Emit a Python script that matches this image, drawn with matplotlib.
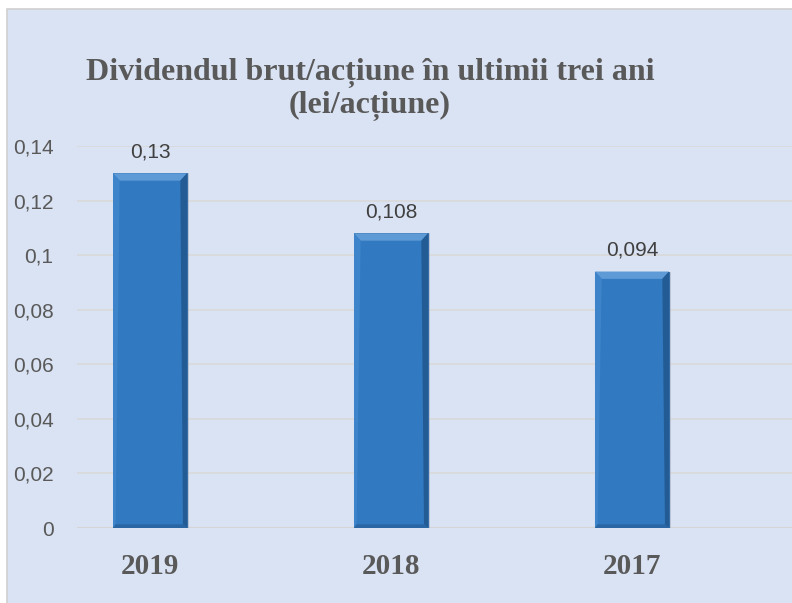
import matplotlib.pyplot as plt
from matplotlib.patches import Rectangle, Polygon

years = ["2019", "2018", "2017"]
dividend = [0.13, 0.108, 0.094]
value_labels = ["0,13", "0,108", "0,094"]
yticks = [0, 0.02, 0.04, 0.06, 0.08, 0.1, 0.12, 0.14]
ytick_labels = ["0", "0,02", "0,04", "0,06", "0,08", "0,1", "0,12", "0,14"]

W, H = 792, 603
fig = plt.figure(figsize=(W / 100, H / 100), dpi=100, facecolor="white")

## light blue chart panel with grey border on the left / top
panel = Rectangle((7 / W, -0.01), 1.0, (H - 9) / H + 0.01, transform=fig.transFigure,
                  facecolor="#dae3f3", edgecolor="#d0d0d0", linewidth=1.2, zorder=-10)
fig.patches.append(panel)

ax = fig.add_axes([77 / W, 75 / H, 715 / W, 382 / H])
ax.set_zorder(1)
ax.set_facecolor("none")
for s in ax.spines.values():
    s.set_visible(False)

x = list(range(len(years)))
bw = 0.307
bars = ax.bar(x, dividend, width=bw, color="#3179c0", edgecolor="#2a64a0",
              linewidth=0.6, zorder=3)

## bevel look: lighter top edge, darker right/bottom edges
for b in bars:
    x0, w, h = b.get_x(), b.get_width(), b.get_height()
    dx, dy = w * 0.09, 0.0027
    ax.add_patch(Polygon([(x0, h), (x0 + w, h), (x0 + w - dx, h - dy), (x0 + dx, h - dy)],
                         closed=True, facecolor="#5e9ad6", edgecolor="none", zorder=4))
    ax.add_patch(Polygon([(x0 + w, h), (x0 + w, 0), (x0 + w - dx * 0.6, dy * 0.5),
                          (x0 + w - dx, h - dy)],
                         closed=True, facecolor="#235b94", edgecolor="none", zorder=4))
    ax.add_patch(Polygon([(x0, h), (x0, 0), (x0 + dx * 0.4, dy * 0.5), (x0 + dx, h - dy)],
                         closed=True, facecolor="#3d84ca", edgecolor="none", zorder=4))
    ax.add_patch(Polygon([(x0, 0), (x0 + w, 0), (x0 + w - dx * 0.6, dy * 0.5), (x0 + dx * 0.4, dy * 0.5)],
                         closed=True, facecolor="#2a66a3", edgecolor="none", zorder=4))
    ax.add_patch(Rectangle((x0 + w, 0), w * 0.03, h, facecolor="#9aa8bd", alpha=0.5,
                           edgecolor="none", zorder=2))

for xi, v, lab in zip(x, dividend, value_labels):
    ax.annotate(lab, (xi, v), xytext=(0, 11.5), textcoords="offset points",
                ha="center", va="baseline", fontsize=15, family="Liberation Sans",
                color="#404040")

ax.set_ylim(0, 0.14)
ax.set_xlim(-0.3029, 2.664)
ax.set_yticks(yticks)
ax.set_yticklabels(ytick_labels, family="Liberation Sans", fontsize=15, color="#595959")
ax.set_xticks(x)
ax.set_xticklabels(years, family="Liberation Serif", fontweight="bold", fontsize=21,
                   color="#595959")
ax.tick_params(axis="y", length=0, pad=17)
ax.tick_params(axis="x", length=0, pad=18)
ax.grid(axis="y", color="#d9d9d9", linewidth=1.2, zorder=0)
ax.axhline(0, color="#d4d4d4", linewidth=2.2, zorder=1)
ax.set_axisbelow(True)

fig.text(370 / W, (H - 80) / H, "Dividendul brut/acțiune în ultimii trei ani",
         ha="center", va="baseline", fontsize=23, fontweight="bold",
         family="Liberation Serif", color="#595959")
fig.text(370 / W, (H - 113) / H, "(lei/acțiune)",
         ha="center", va="baseline", fontsize=23, fontweight="bold",
         family="Liberation Serif", color="#595959")

fig.savefig("out.png", dpi=100)
